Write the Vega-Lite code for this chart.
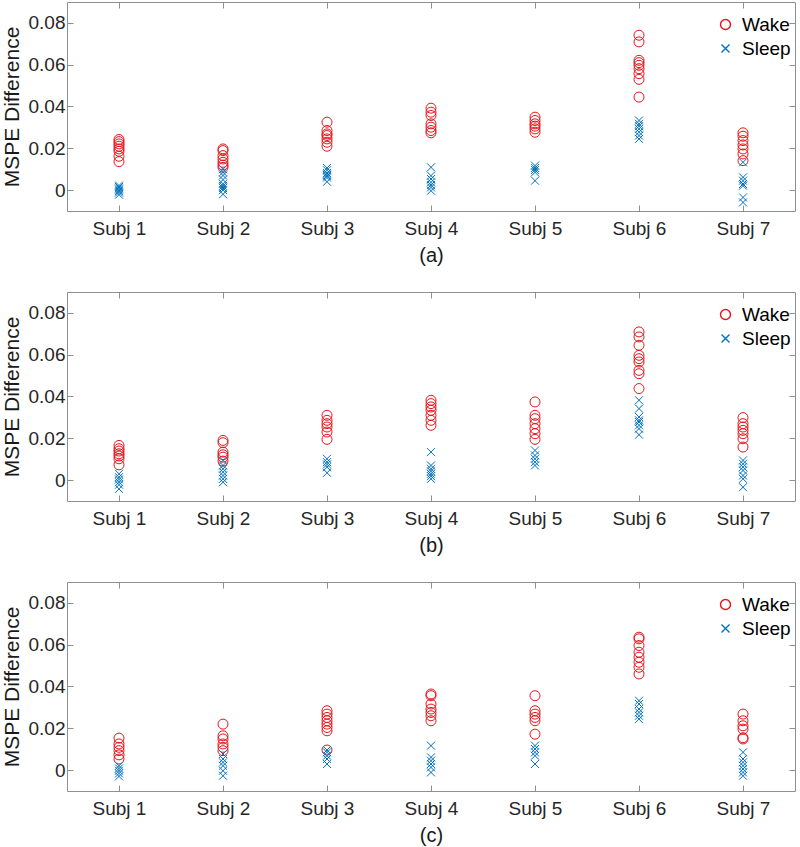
{
  "$schema": "https://vega.github.io/schema/vega-lite/v6.json",
  "padding": {"left": 0, "top": 1, "right": 2, "bottom": 0},
  "config": {
    "font": "Liberation Sans",
    "view": {"stroke": "#8f8f8f", "strokeWidth": 1},
    "axis": {
      "domain": false,
      "grid": false,
      "tickColor": "#8f8f8f",
      "tickSize": -6,
      "labelColor": "#262626",
      "labelFontSize": 19,
      "titleColor": "#1a1a1a",
      "titleFontWeight": "normal"
    },
    "legend": {
      "labelFontSize": 19,
      "labelColor": "#000000",
      "padding": 0
    }
  },
  "data": {
    "values": [
      {"panel": "a", "subject": "Subj 1", "group": "Wake", "mspe": 0.0242},
      {"panel": "a", "subject": "Subj 1", "group": "Wake", "mspe": 0.0232},
      {"panel": "a", "subject": "Subj 1", "group": "Wake", "mspe": 0.0221},
      {"panel": "a", "subject": "Subj 1", "group": "Wake", "mspe": 0.0210},
      {"panel": "a", "subject": "Subj 1", "group": "Wake", "mspe": 0.0197},
      {"panel": "a", "subject": "Subj 1", "group": "Wake", "mspe": 0.0186},
      {"panel": "a", "subject": "Subj 1", "group": "Wake", "mspe": 0.0162},
      {"panel": "a", "subject": "Subj 1", "group": "Wake", "mspe": 0.0136},
      {"panel": "a", "subject": "Subj 1", "group": "Sleep", "mspe": 0.0022},
      {"panel": "a", "subject": "Subj 1", "group": "Sleep", "mspe": 0.0015},
      {"panel": "a", "subject": "Subj 1", "group": "Sleep", "mspe": 0.0008},
      {"panel": "a", "subject": "Subj 1", "group": "Sleep", "mspe": 0.0002},
      {"panel": "a", "subject": "Subj 1", "group": "Sleep", "mspe": -0.0005},
      {"panel": "a", "subject": "Subj 1", "group": "Sleep", "mspe": -0.0012},
      {"panel": "a", "subject": "Subj 1", "group": "Sleep", "mspe": -0.0022},
      {"panel": "a", "subject": "Subj 2", "group": "Wake", "mspe": 0.0197},
      {"panel": "a", "subject": "Subj 2", "group": "Wake", "mspe": 0.0189},
      {"panel": "a", "subject": "Subj 2", "group": "Wake", "mspe": 0.0165},
      {"panel": "a", "subject": "Subj 2", "group": "Wake", "mspe": 0.0149},
      {"panel": "a", "subject": "Subj 2", "group": "Wake", "mspe": 0.0133},
      {"panel": "a", "subject": "Subj 2", "group": "Wake", "mspe": 0.0120},
      {"panel": "a", "subject": "Subj 2", "group": "Wake", "mspe": 0.0109},
      {"panel": "a", "subject": "Subj 2", "group": "Sleep", "mspe": 0.0100},
      {"panel": "a", "subject": "Subj 2", "group": "Sleep", "mspe": 0.0085},
      {"panel": "a", "subject": "Subj 2", "group": "Sleep", "mspe": 0.0070},
      {"panel": "a", "subject": "Subj 2", "group": "Sleep", "mspe": 0.0050},
      {"panel": "a", "subject": "Subj 2", "group": "Sleep", "mspe": 0.0030},
      {"panel": "a", "subject": "Subj 2", "group": "Sleep", "mspe": 0.0020},
      {"panel": "a", "subject": "Subj 2", "group": "Sleep", "mspe": 0.0010},
      {"panel": "a", "subject": "Subj 2", "group": "Sleep", "mspe": 0.0000},
      {"panel": "a", "subject": "Subj 2", "group": "Sleep", "mspe": -0.0020},
      {"panel": "a", "subject": "Subj 3", "group": "Wake", "mspe": 0.0325},
      {"panel": "a", "subject": "Subj 3", "group": "Wake", "mspe": 0.0285},
      {"panel": "a", "subject": "Subj 3", "group": "Wake", "mspe": 0.0269},
      {"panel": "a", "subject": "Subj 3", "group": "Wake", "mspe": 0.0261},
      {"panel": "a", "subject": "Subj 3", "group": "Wake", "mspe": 0.0245},
      {"panel": "a", "subject": "Subj 3", "group": "Wake", "mspe": 0.0229},
      {"panel": "a", "subject": "Subj 3", "group": "Wake", "mspe": 0.0210},
      {"panel": "a", "subject": "Subj 3", "group": "Sleep", "mspe": 0.0106},
      {"panel": "a", "subject": "Subj 3", "group": "Sleep", "mspe": 0.0095},
      {"panel": "a", "subject": "Subj 3", "group": "Sleep", "mspe": 0.0082},
      {"panel": "a", "subject": "Subj 3", "group": "Sleep", "mspe": 0.0075},
      {"panel": "a", "subject": "Subj 3", "group": "Sleep", "mspe": 0.0068},
      {"panel": "a", "subject": "Subj 3", "group": "Sleep", "mspe": 0.0060},
      {"panel": "a", "subject": "Subj 3", "group": "Sleep", "mspe": 0.0040},
      {"panel": "a", "subject": "Subj 4", "group": "Wake", "mspe": 0.0392},
      {"panel": "a", "subject": "Subj 4", "group": "Wake", "mspe": 0.0373},
      {"panel": "a", "subject": "Subj 4", "group": "Wake", "mspe": 0.0357},
      {"panel": "a", "subject": "Subj 4", "group": "Wake", "mspe": 0.0317},
      {"panel": "a", "subject": "Subj 4", "group": "Wake", "mspe": 0.0301},
      {"panel": "a", "subject": "Subj 4", "group": "Wake", "mspe": 0.0285},
      {"panel": "a", "subject": "Subj 4", "group": "Wake", "mspe": 0.0274},
      {"panel": "a", "subject": "Subj 4", "group": "Sleep", "mspe": 0.0109},
      {"panel": "a", "subject": "Subj 4", "group": "Sleep", "mspe": 0.0069},
      {"panel": "a", "subject": "Subj 4", "group": "Sleep", "mspe": 0.0053},
      {"panel": "a", "subject": "Subj 4", "group": "Sleep", "mspe": 0.0037},
      {"panel": "a", "subject": "Subj 4", "group": "Sleep", "mspe": 0.0024},
      {"panel": "a", "subject": "Subj 4", "group": "Sleep", "mspe": 0.0013},
      {"panel": "a", "subject": "Subj 4", "group": "Sleep", "mspe": -0.0003},
      {"panel": "a", "subject": "Subj 5", "group": "Wake", "mspe": 0.0349},
      {"panel": "a", "subject": "Subj 5", "group": "Wake", "mspe": 0.0333},
      {"panel": "a", "subject": "Subj 5", "group": "Wake", "mspe": 0.0317},
      {"panel": "a", "subject": "Subj 5", "group": "Wake", "mspe": 0.0306},
      {"panel": "a", "subject": "Subj 5", "group": "Wake", "mspe": 0.0293},
      {"panel": "a", "subject": "Subj 5", "group": "Wake", "mspe": 0.0277},
      {"panel": "a", "subject": "Subj 5", "group": "Sleep", "mspe": 0.0117},
      {"panel": "a", "subject": "Subj 5", "group": "Sleep", "mspe": 0.0106},
      {"panel": "a", "subject": "Subj 5", "group": "Sleep", "mspe": 0.0096},
      {"panel": "a", "subject": "Subj 5", "group": "Sleep", "mspe": 0.0085},
      {"panel": "a", "subject": "Subj 5", "group": "Sleep", "mspe": 0.0045},
      {"panel": "a", "subject": "Subj 6", "group": "Wake", "mspe": 0.0741},
      {"panel": "a", "subject": "Subj 6", "group": "Wake", "mspe": 0.0709},
      {"panel": "a", "subject": "Subj 6", "group": "Wake", "mspe": 0.0621},
      {"panel": "a", "subject": "Subj 6", "group": "Wake", "mspe": 0.0610},
      {"panel": "a", "subject": "Subj 6", "group": "Wake", "mspe": 0.0597},
      {"panel": "a", "subject": "Subj 6", "group": "Wake", "mspe": 0.0581},
      {"panel": "a", "subject": "Subj 6", "group": "Wake", "mspe": 0.0557},
      {"panel": "a", "subject": "Subj 6", "group": "Wake", "mspe": 0.0530},
      {"panel": "a", "subject": "Subj 6", "group": "Wake", "mspe": 0.0445},
      {"panel": "a", "subject": "Subj 6", "group": "Sleep", "mspe": 0.0333},
      {"panel": "a", "subject": "Subj 6", "group": "Sleep", "mspe": 0.0317},
      {"panel": "a", "subject": "Subj 6", "group": "Sleep", "mspe": 0.0306},
      {"panel": "a", "subject": "Subj 6", "group": "Sleep", "mspe": 0.0293},
      {"panel": "a", "subject": "Subj 6", "group": "Sleep", "mspe": 0.0277},
      {"panel": "a", "subject": "Subj 6", "group": "Sleep", "mspe": 0.0261},
      {"panel": "a", "subject": "Subj 6", "group": "Sleep", "mspe": 0.0245},
      {"panel": "a", "subject": "Subj 7", "group": "Wake", "mspe": 0.0274},
      {"panel": "a", "subject": "Subj 7", "group": "Wake", "mspe": 0.0258},
      {"panel": "a", "subject": "Subj 7", "group": "Wake", "mspe": 0.0237},
      {"panel": "a", "subject": "Subj 7", "group": "Wake", "mspe": 0.0216},
      {"panel": "a", "subject": "Subj 7", "group": "Wake", "mspe": 0.0197},
      {"panel": "a", "subject": "Subj 7", "group": "Wake", "mspe": 0.0173},
      {"panel": "a", "subject": "Subj 7", "group": "Wake", "mspe": 0.0141},
      {"panel": "a", "subject": "Subj 7", "group": "Sleep", "mspe": 0.0133},
      {"panel": "a", "subject": "Subj 7", "group": "Sleep", "mspe": 0.0061},
      {"panel": "a", "subject": "Subj 7", "group": "Sleep", "mspe": 0.0045},
      {"panel": "a", "subject": "Subj 7", "group": "Sleep", "mspe": 0.0029},
      {"panel": "a", "subject": "Subj 7", "group": "Sleep", "mspe": 0.0021},
      {"panel": "a", "subject": "Subj 7", "group": "Sleep", "mspe": -0.0035},
      {"panel": "a", "subject": "Subj 7", "group": "Sleep", "mspe": -0.0059},

      {"panel": "b", "subject": "Subj 1", "group": "Wake", "mspe": 0.0166},
      {"panel": "b", "subject": "Subj 1", "group": "Wake", "mspe": 0.0150},
      {"panel": "b", "subject": "Subj 1", "group": "Wake", "mspe": 0.0139},
      {"panel": "b", "subject": "Subj 1", "group": "Wake", "mspe": 0.0126},
      {"panel": "b", "subject": "Subj 1", "group": "Wake", "mspe": 0.0115},
      {"panel": "b", "subject": "Subj 1", "group": "Wake", "mspe": 0.0102},
      {"panel": "b", "subject": "Subj 1", "group": "Wake", "mspe": 0.0073},
      {"panel": "b", "subject": "Subj 1", "group": "Sleep", "mspe": 0.0030},
      {"panel": "b", "subject": "Subj 1", "group": "Sleep", "mspe": 0.0014},
      {"panel": "b", "subject": "Subj 1", "group": "Sleep", "mspe": 0.0003},
      {"panel": "b", "subject": "Subj 1", "group": "Sleep", "mspe": -0.0010},
      {"panel": "b", "subject": "Subj 1", "group": "Sleep", "mspe": -0.0022},
      {"panel": "b", "subject": "Subj 1", "group": "Sleep", "mspe": -0.0042},
      {"panel": "b", "subject": "Subj 2", "group": "Wake", "mspe": 0.0190},
      {"panel": "b", "subject": "Subj 2", "group": "Wake", "mspe": 0.0179},
      {"panel": "b", "subject": "Subj 2", "group": "Wake", "mspe": 0.0134},
      {"panel": "b", "subject": "Subj 2", "group": "Wake", "mspe": 0.0121},
      {"panel": "b", "subject": "Subj 2", "group": "Wake", "mspe": 0.0110},
      {"panel": "b", "subject": "Subj 2", "group": "Wake", "mspe": 0.0091},
      {"panel": "b", "subject": "Subj 2", "group": "Sleep", "mspe": 0.0094},
      {"panel": "b", "subject": "Subj 2", "group": "Sleep", "mspe": 0.0070},
      {"panel": "b", "subject": "Subj 2", "group": "Sleep", "mspe": 0.0054},
      {"panel": "b", "subject": "Subj 2", "group": "Sleep", "mspe": 0.0038},
      {"panel": "b", "subject": "Subj 2", "group": "Sleep", "mspe": 0.0022},
      {"panel": "b", "subject": "Subj 2", "group": "Sleep", "mspe": 0.0006},
      {"panel": "b", "subject": "Subj 2", "group": "Sleep", "mspe": -0.0010},
      {"panel": "b", "subject": "Subj 3", "group": "Wake", "mspe": 0.0310},
      {"panel": "b", "subject": "Subj 3", "group": "Wake", "mspe": 0.0286},
      {"panel": "b", "subject": "Subj 3", "group": "Wake", "mspe": 0.0270},
      {"panel": "b", "subject": "Subj 3", "group": "Wake", "mspe": 0.0254},
      {"panel": "b", "subject": "Subj 3", "group": "Wake", "mspe": 0.0230},
      {"panel": "b", "subject": "Subj 3", "group": "Wake", "mspe": 0.0195},
      {"panel": "b", "subject": "Subj 3", "group": "Sleep", "mspe": 0.0102},
      {"panel": "b", "subject": "Subj 3", "group": "Sleep", "mspe": 0.0086},
      {"panel": "b", "subject": "Subj 3", "group": "Sleep", "mspe": 0.0075},
      {"panel": "b", "subject": "Subj 3", "group": "Sleep", "mspe": 0.0062},
      {"panel": "b", "subject": "Subj 3", "group": "Sleep", "mspe": 0.0035},
      {"panel": "b", "subject": "Subj 4", "group": "Wake", "mspe": 0.0382},
      {"panel": "b", "subject": "Subj 4", "group": "Wake", "mspe": 0.0366},
      {"panel": "b", "subject": "Subj 4", "group": "Wake", "mspe": 0.0350},
      {"panel": "b", "subject": "Subj 4", "group": "Wake", "mspe": 0.0334},
      {"panel": "b", "subject": "Subj 4", "group": "Wake", "mspe": 0.0310},
      {"panel": "b", "subject": "Subj 4", "group": "Wake", "mspe": 0.0286},
      {"panel": "b", "subject": "Subj 4", "group": "Wake", "mspe": 0.0262},
      {"panel": "b", "subject": "Subj 4", "group": "Sleep", "mspe": 0.0134},
      {"panel": "b", "subject": "Subj 4", "group": "Sleep", "mspe": 0.0070},
      {"panel": "b", "subject": "Subj 4", "group": "Sleep", "mspe": 0.0054},
      {"panel": "b", "subject": "Subj 4", "group": "Sleep", "mspe": 0.0042},
      {"panel": "b", "subject": "Subj 4", "group": "Sleep", "mspe": 0.0030},
      {"panel": "b", "subject": "Subj 4", "group": "Sleep", "mspe": 0.0019},
      {"panel": "b", "subject": "Subj 4", "group": "Sleep", "mspe": 0.0006},
      {"panel": "b", "subject": "Subj 5", "group": "Wake", "mspe": 0.0374},
      {"panel": "b", "subject": "Subj 5", "group": "Wake", "mspe": 0.0310},
      {"panel": "b", "subject": "Subj 5", "group": "Wake", "mspe": 0.0294},
      {"panel": "b", "subject": "Subj 5", "group": "Wake", "mspe": 0.0270},
      {"panel": "b", "subject": "Subj 5", "group": "Wake", "mspe": 0.0246},
      {"panel": "b", "subject": "Subj 5", "group": "Wake", "mspe": 0.0222},
      {"panel": "b", "subject": "Subj 5", "group": "Wake", "mspe": 0.0195},
      {"panel": "b", "subject": "Subj 5", "group": "Sleep", "mspe": 0.0142},
      {"panel": "b", "subject": "Subj 5", "group": "Sleep", "mspe": 0.0118},
      {"panel": "b", "subject": "Subj 5", "group": "Sleep", "mspe": 0.0102},
      {"panel": "b", "subject": "Subj 5", "group": "Sleep", "mspe": 0.0086},
      {"panel": "b", "subject": "Subj 5", "group": "Sleep", "mspe": 0.0070},
      {"panel": "b", "subject": "Subj 6", "group": "Wake", "mspe": 0.0709},
      {"panel": "b", "subject": "Subj 6", "group": "Wake", "mspe": 0.0685},
      {"panel": "b", "subject": "Subj 6", "group": "Wake", "mspe": 0.0645},
      {"panel": "b", "subject": "Subj 6", "group": "Wake", "mspe": 0.0597},
      {"panel": "b", "subject": "Subj 6", "group": "Wake", "mspe": 0.0581},
      {"panel": "b", "subject": "Subj 6", "group": "Wake", "mspe": 0.0565},
      {"panel": "b", "subject": "Subj 6", "group": "Wake", "mspe": 0.0525},
      {"panel": "b", "subject": "Subj 6", "group": "Wake", "mspe": 0.0509},
      {"panel": "b", "subject": "Subj 6", "group": "Wake", "mspe": 0.0438},
      {"panel": "b", "subject": "Subj 6", "group": "Sleep", "mspe": 0.0382},
      {"panel": "b", "subject": "Subj 6", "group": "Sleep", "mspe": 0.0342},
      {"panel": "b", "subject": "Subj 6", "group": "Sleep", "mspe": 0.0302},
      {"panel": "b", "subject": "Subj 6", "group": "Sleep", "mspe": 0.0286},
      {"panel": "b", "subject": "Subj 6", "group": "Sleep", "mspe": 0.0278},
      {"panel": "b", "subject": "Subj 6", "group": "Sleep", "mspe": 0.0262},
      {"panel": "b", "subject": "Subj 6", "group": "Sleep", "mspe": 0.0246},
      {"panel": "b", "subject": "Subj 6", "group": "Sleep", "mspe": 0.0217},
      {"panel": "b", "subject": "Subj 7", "group": "Wake", "mspe": 0.0299},
      {"panel": "b", "subject": "Subj 7", "group": "Wake", "mspe": 0.0270},
      {"panel": "b", "subject": "Subj 7", "group": "Wake", "mspe": 0.0254},
      {"panel": "b", "subject": "Subj 7", "group": "Wake", "mspe": 0.0238},
      {"panel": "b", "subject": "Subj 7", "group": "Wake", "mspe": 0.0222},
      {"panel": "b", "subject": "Subj 7", "group": "Wake", "mspe": 0.0198},
      {"panel": "b", "subject": "Subj 7", "group": "Wake", "mspe": 0.0158},
      {"panel": "b", "subject": "Subj 7", "group": "Sleep", "mspe": 0.0094},
      {"panel": "b", "subject": "Subj 7", "group": "Sleep", "mspe": 0.0078},
      {"panel": "b", "subject": "Subj 7", "group": "Sleep", "mspe": 0.0062},
      {"panel": "b", "subject": "Subj 7", "group": "Sleep", "mspe": 0.0046},
      {"panel": "b", "subject": "Subj 7", "group": "Sleep", "mspe": 0.0022},
      {"panel": "b", "subject": "Subj 7", "group": "Sleep", "mspe": 0.0006},
      {"panel": "b", "subject": "Subj 7", "group": "Sleep", "mspe": -0.0034},

      {"panel": "c", "subject": "Subj 1", "group": "Wake", "mspe": 0.0153},
      {"panel": "c", "subject": "Subj 1", "group": "Wake", "mspe": 0.0125},
      {"panel": "c", "subject": "Subj 1", "group": "Wake", "mspe": 0.0109},
      {"panel": "c", "subject": "Subj 1", "group": "Wake", "mspe": 0.0093},
      {"panel": "c", "subject": "Subj 1", "group": "Wake", "mspe": 0.0073},
      {"panel": "c", "subject": "Subj 1", "group": "Wake", "mspe": 0.0053},
      {"panel": "c", "subject": "Subj 1", "group": "Sleep", "mspe": 0.0021},
      {"panel": "c", "subject": "Subj 1", "group": "Sleep", "mspe": 0.0008},
      {"panel": "c", "subject": "Subj 1", "group": "Sleep", "mspe": -0.0003},
      {"panel": "c", "subject": "Subj 1", "group": "Sleep", "mspe": -0.0016},
      {"panel": "c", "subject": "Subj 1", "group": "Sleep", "mspe": -0.0030},
      {"panel": "c", "subject": "Subj 2", "group": "Wake", "mspe": 0.0220},
      {"panel": "c", "subject": "Subj 2", "group": "Wake", "mspe": 0.0164},
      {"panel": "c", "subject": "Subj 2", "group": "Wake", "mspe": 0.0149},
      {"panel": "c", "subject": "Subj 2", "group": "Wake", "mspe": 0.0125},
      {"panel": "c", "subject": "Subj 2", "group": "Wake", "mspe": 0.0109},
      {"panel": "c", "subject": "Subj 2", "group": "Wake", "mspe": 0.0093},
      {"panel": "c", "subject": "Subj 2", "group": "Sleep", "mspe": 0.0077},
      {"panel": "c", "subject": "Subj 2", "group": "Sleep", "mspe": 0.0053},
      {"panel": "c", "subject": "Subj 2", "group": "Sleep", "mspe": 0.0037},
      {"panel": "c", "subject": "Subj 2", "group": "Sleep", "mspe": 0.0021},
      {"panel": "c", "subject": "Subj 2", "group": "Sleep", "mspe": -0.0003},
      {"panel": "c", "subject": "Subj 2", "group": "Sleep", "mspe": -0.0027},
      {"panel": "c", "subject": "Subj 3", "group": "Wake", "mspe": 0.0284},
      {"panel": "c", "subject": "Subj 3", "group": "Wake", "mspe": 0.0268},
      {"panel": "c", "subject": "Subj 3", "group": "Wake", "mspe": 0.0252},
      {"panel": "c", "subject": "Subj 3", "group": "Wake", "mspe": 0.0236},
      {"panel": "c", "subject": "Subj 3", "group": "Wake", "mspe": 0.0220},
      {"panel": "c", "subject": "Subj 3", "group": "Wake", "mspe": 0.0204},
      {"panel": "c", "subject": "Subj 3", "group": "Wake", "mspe": 0.0188},
      {"panel": "c", "subject": "Subj 3", "group": "Wake", "mspe": 0.0096},
      {"panel": "c", "subject": "Subj 3", "group": "Sleep", "mspe": 0.0096},
      {"panel": "c", "subject": "Subj 3", "group": "Sleep", "mspe": 0.0085},
      {"panel": "c", "subject": "Subj 3", "group": "Sleep", "mspe": 0.0069},
      {"panel": "c", "subject": "Subj 3", "group": "Sleep", "mspe": 0.0053},
      {"panel": "c", "subject": "Subj 3", "group": "Sleep", "mspe": 0.0029},
      {"panel": "c", "subject": "Subj 4", "group": "Wake", "mspe": 0.0364},
      {"panel": "c", "subject": "Subj 4", "group": "Wake", "mspe": 0.0356},
      {"panel": "c", "subject": "Subj 4", "group": "Wake", "mspe": 0.0316},
      {"panel": "c", "subject": "Subj 4", "group": "Wake", "mspe": 0.0292},
      {"panel": "c", "subject": "Subj 4", "group": "Wake", "mspe": 0.0276},
      {"panel": "c", "subject": "Subj 4", "group": "Wake", "mspe": 0.0260},
      {"panel": "c", "subject": "Subj 4", "group": "Wake", "mspe": 0.0236},
      {"panel": "c", "subject": "Subj 4", "group": "Sleep", "mspe": 0.0117},
      {"panel": "c", "subject": "Subj 4", "group": "Sleep", "mspe": 0.0061},
      {"panel": "c", "subject": "Subj 4", "group": "Sleep", "mspe": 0.0045},
      {"panel": "c", "subject": "Subj 4", "group": "Sleep", "mspe": 0.0029},
      {"panel": "c", "subject": "Subj 4", "group": "Sleep", "mspe": 0.0013},
      {"panel": "c", "subject": "Subj 4", "group": "Sleep", "mspe": -0.0011},
      {"panel": "c", "subject": "Subj 5", "group": "Wake", "mspe": 0.0356},
      {"panel": "c", "subject": "Subj 5", "group": "Wake", "mspe": 0.0284},
      {"panel": "c", "subject": "Subj 5", "group": "Wake", "mspe": 0.0268},
      {"panel": "c", "subject": "Subj 5", "group": "Wake", "mspe": 0.0252},
      {"panel": "c", "subject": "Subj 5", "group": "Wake", "mspe": 0.0236},
      {"panel": "c", "subject": "Subj 5", "group": "Wake", "mspe": 0.0172},
      {"panel": "c", "subject": "Subj 5", "group": "Sleep", "mspe": 0.0117},
      {"panel": "c", "subject": "Subj 5", "group": "Sleep", "mspe": 0.0101},
      {"panel": "c", "subject": "Subj 5", "group": "Sleep", "mspe": 0.0085},
      {"panel": "c", "subject": "Subj 5", "group": "Sleep", "mspe": 0.0069},
      {"panel": "c", "subject": "Subj 5", "group": "Sleep", "mspe": 0.0029},
      {"panel": "c", "subject": "Subj 6", "group": "Wake", "mspe": 0.0636},
      {"panel": "c", "subject": "Subj 6", "group": "Wake", "mspe": 0.0628},
      {"panel": "c", "subject": "Subj 6", "group": "Wake", "mspe": 0.0596},
      {"panel": "c", "subject": "Subj 6", "group": "Wake", "mspe": 0.0564},
      {"panel": "c", "subject": "Subj 6", "group": "Wake", "mspe": 0.0540},
      {"panel": "c", "subject": "Subj 6", "group": "Wake", "mspe": 0.0516},
      {"panel": "c", "subject": "Subj 6", "group": "Wake", "mspe": 0.0492},
      {"panel": "c", "subject": "Subj 6", "group": "Wake", "mspe": 0.0460},
      {"panel": "c", "subject": "Subj 6", "group": "Sleep", "mspe": 0.0332},
      {"panel": "c", "subject": "Subj 6", "group": "Sleep", "mspe": 0.0316},
      {"panel": "c", "subject": "Subj 6", "group": "Sleep", "mspe": 0.0292},
      {"panel": "c", "subject": "Subj 6", "group": "Sleep", "mspe": 0.0276},
      {"panel": "c", "subject": "Subj 6", "group": "Sleep", "mspe": 0.0260},
      {"panel": "c", "subject": "Subj 6", "group": "Sleep", "mspe": 0.0244},
      {"panel": "c", "subject": "Subj 7", "group": "Wake", "mspe": 0.0268},
      {"panel": "c", "subject": "Subj 7", "group": "Wake", "mspe": 0.0236},
      {"panel": "c", "subject": "Subj 7", "group": "Wake", "mspe": 0.0212},
      {"panel": "c", "subject": "Subj 7", "group": "Wake", "mspe": 0.0196},
      {"panel": "c", "subject": "Subj 7", "group": "Wake", "mspe": 0.0155},
      {"panel": "c", "subject": "Subj 7", "group": "Wake", "mspe": 0.0149},
      {"panel": "c", "subject": "Subj 7", "group": "Sleep", "mspe": 0.0085},
      {"panel": "c", "subject": "Subj 7", "group": "Sleep", "mspe": 0.0053},
      {"panel": "c", "subject": "Subj 7", "group": "Sleep", "mspe": 0.0037},
      {"panel": "c", "subject": "Subj 7", "group": "Sleep", "mspe": 0.0021},
      {"panel": "c", "subject": "Subj 7", "group": "Sleep", "mspe": 0.0005},
      {"panel": "c", "subject": "Subj 7", "group": "Sleep", "mspe": -0.0011},
      {"panel": "c", "subject": "Subj 7", "group": "Sleep", "mspe": -0.0027}
    ]
  },
  "spacing": 25,
  "resolve": {
    "scale": {"color": "independent", "shape": "independent"},
    "legend": {"color": "independent", "shape": "independent"}
  },
  "vconcat": [
    {
      "width": 728,
      "height": 209,
      "transform": [{"filter": "datum.panel == 'a'"}],
      "resolve": {"axis": {"x": "independent", "y": "independent"}},
      "layer": [
        {
          "mark": {"type": "point", "filled": false, "strokeWidth": 1, "size": 100, "opacity": 1},
          "encoding": {
            "x": {"field": "subject", "type": "nominal", "sort": null, "scale": {"type": "point", "padding": 0.5},
                  "axis": {"orient": "bottom", "labelAngle": 0, "labelPadding": 14, "title": "(a)", "titleFontSize": 20, "titlePadding": 7}},
            "y": {"field": "mspe", "type": "quantitative", "scale": {"domain": [-0.01, 0.09], "nice": false, "zero": false},
                  "axis": {"orient": "left", "values": [0, 0.02, 0.04, 0.06, 0.08], "format": "~g", "labelPadding": 8, "title": "MSPE Difference", "titleFontSize": 21, "titlePadding": 6}},
            "color": {"field": "group", "type": "nominal", "scale": {"domain": ["Wake", "Sleep"], "range": ["#e8141a", "#0072bd"]},
                      "legend": {"title": null, "orient": "none", "legendX": 649, "legendY": 13, "symbolSize": 100, "symbolStrokeWidth": 1.4, "labelOffset": 7, "rowPadding": 4}},
            "shape": {"field": "group", "type": "nominal", "legend": null, "scale": {"domain": ["Wake", "Sleep"], "range": ["circle", "M-0.8,-0.8L0.8,0.8M-0.8,0.8L0.8,-0.8"]}}
          }
        },
        {
          "mark": {"type": "point", "opacity": 0},
          "encoding": {
            "x": {"field": "subject", "type": "nominal", "sort": null, "scale": {"type": "point", "padding": 0.5},
                  "axis": {"orient": "top", "labels": false, "title": null}},
            "y": {"field": "mspe", "type": "quantitative", "scale": {"domain": [-0.01, 0.09], "nice": false, "zero": false},
                  "axis": {"orient": "right", "values": [0, 0.02, 0.04, 0.06, 0.08], "labels": false, "title": null}}
          }
        }
      ]
    },
    {
      "width": 728,
      "height": 209,
      "transform": [{"filter": "datum.panel == 'b'"}],
      "resolve": {"axis": {"x": "independent", "y": "independent"}},
      "layer": [
        {
          "mark": {"type": "point", "filled": false, "strokeWidth": 1, "size": 100, "opacity": 1},
          "encoding": {
            "x": {"field": "subject", "type": "nominal", "sort": null, "scale": {"type": "point", "padding": 0.5},
                  "axis": {"orient": "bottom", "labelAngle": 0, "labelPadding": 14, "title": "(b)", "titleFontSize": 20, "titlePadding": 7}},
            "y": {"field": "mspe", "type": "quantitative", "scale": {"domain": [-0.01, 0.09], "nice": false, "zero": false},
                  "axis": {"orient": "left", "values": [0, 0.02, 0.04, 0.06, 0.08], "format": "~g", "labelPadding": 8, "title": "MSPE Difference", "titleFontSize": 21, "titlePadding": 6}},
            "color": {"field": "group", "type": "nominal", "scale": {"domain": ["Wake", "Sleep"], "range": ["#e8141a", "#0072bd"]},
                      "legend": {"title": null, "orient": "none", "legendX": 649, "legendY": 13, "symbolSize": 100, "symbolStrokeWidth": 1.4, "labelOffset": 7, "rowPadding": 4}},
            "shape": {"field": "group", "type": "nominal", "legend": null, "scale": {"domain": ["Wake", "Sleep"], "range": ["circle", "M-0.8,-0.8L0.8,0.8M-0.8,0.8L0.8,-0.8"]}}
          }
        },
        {
          "mark": {"type": "point", "opacity": 0},
          "encoding": {
            "x": {"field": "subject", "type": "nominal", "sort": null, "scale": {"type": "point", "padding": 0.5},
                  "axis": {"orient": "top", "labels": false, "title": null}},
            "y": {"field": "mspe", "type": "quantitative", "scale": {"domain": [-0.01, 0.09], "nice": false, "zero": false},
                  "axis": {"orient": "right", "values": [0, 0.02, 0.04, 0.06, 0.08], "labels": false, "title": null}}
          }
        }
      ]
    },
    {
      "width": 728,
      "height": 209,
      "transform": [{"filter": "datum.panel == 'c'"}],
      "resolve": {"axis": {"x": "independent", "y": "independent"}},
      "layer": [
        {
          "mark": {"type": "point", "filled": false, "strokeWidth": 1, "size": 100, "opacity": 1},
          "encoding": {
            "x": {"field": "subject", "type": "nominal", "sort": null, "scale": {"type": "point", "padding": 0.5},
                  "axis": {"orient": "bottom", "labelAngle": 0, "labelPadding": 14, "title": "(c)", "titleFontSize": 20, "titlePadding": 7}},
            "y": {"field": "mspe", "type": "quantitative", "scale": {"domain": [-0.01, 0.09], "nice": false, "zero": false},
                  "axis": {"orient": "left", "values": [0, 0.02, 0.04, 0.06, 0.08], "format": "~g", "labelPadding": 8, "title": "MSPE Difference", "titleFontSize": 21, "titlePadding": 6}},
            "color": {"field": "group", "type": "nominal", "scale": {"domain": ["Wake", "Sleep"], "range": ["#e8141a", "#0072bd"]},
                      "legend": {"title": null, "orient": "none", "legendX": 649, "legendY": 13, "symbolSize": 100, "symbolStrokeWidth": 1.4, "labelOffset": 7, "rowPadding": 4}},
            "shape": {"field": "group", "type": "nominal", "legend": null, "scale": {"domain": ["Wake", "Sleep"], "range": ["circle", "M-0.8,-0.8L0.8,0.8M-0.8,0.8L0.8,-0.8"]}}
          }
        },
        {
          "mark": {"type": "point", "opacity": 0},
          "encoding": {
            "x": {"field": "subject", "type": "nominal", "sort": null, "scale": {"type": "point", "padding": 0.5},
                  "axis": {"orient": "top", "labels": false, "title": null}},
            "y": {"field": "mspe", "type": "quantitative", "scale": {"domain": [-0.01, 0.09], "nice": false, "zero": false},
                  "axis": {"orient": "right", "values": [0, 0.02, 0.04, 0.06, 0.08], "labels": false, "title": null}}
          }
        }
      ]
    }
  ]
}
